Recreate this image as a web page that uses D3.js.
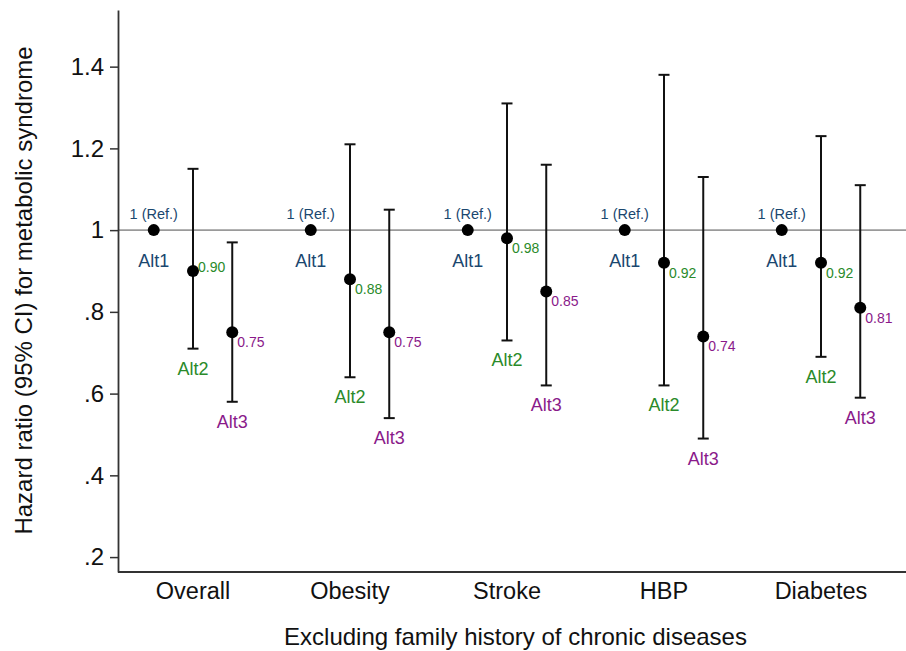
<!DOCTYPE html>
<html>
<head>
<meta charset="utf-8">
<script src="https://cdn.jsdelivr.net/npm/d3@7"></script>
<style>
  body { margin: 0; background: #fff; }
  svg { display: block; font-family: "Liberation Sans", Arial, sans-serif; }
</style>
</head>
<body>
<script>
// data
var categories = ["Overall", "Obesity", "Stroke", "HBP", "Diabetes"];
var seriesNames = ["Alt1", "Alt2", "Alt3"];
// hazard ratios per series (Alt1 is the reference)
var alt1HR = [1, 1, 1, 1, 1];
var alt2HR = [0.90, 0.88, 0.98, 0.92, 0.92];
var alt2Lo = [0.71, 0.64, 0.73, 0.62, 0.69];
var alt2Hi = [1.15, 1.21, 1.31, 1.38, 1.23];
var alt3HR = [0.75, 0.75, 0.85, 0.74, 0.81];
var alt3Lo = [0.58, 0.54, 0.62, 0.49, 0.59];
var alt3Hi = [0.97, 1.05, 1.16, 1.13, 1.11];
var yTicks = [0.2, 0.4, 0.6, 0.8, 1, 1.2, 1.4];

var svgWidth = 906, svgHeight = 651;
var colors = { Alt1: "#1a476f", Alt2: "#2a8a2a", Alt3: "#8a1a8a" };
var offsets = { Alt1: -0.25, Alt2: 0, Alt3: 0.25 };

var svg = d3.select("body").append("svg")
    .attr("width", svgWidth)
    .attr("height", svgHeight);

// scales
var xScale = d3.scaleLinear()
    .domain([0, categories.length - 1])
    .range([193, 821]);

var yScale = d3.scaleLinear()
    .domain([0.1635, 1.5386])
    .range([572, 10]);

var axisX = 118;

// reference line at 1
svg.append("line")
    .attr("x1", axisX).attr("x2", svgWidth)
    .attr("y1", yScale(1)).attr("y2", yScale(1))
    .attr("stroke", "#9a9a9a")
    .attr("stroke-width", 1.6);

// y axis
var yAxis = d3.axisLeft(yScale)
    .tickValues(yTicks)
    .tickSize(8)
    .tickSizeOuter(0)
    .tickPadding(6)
    .tickFormat(function(d) { return d3.format("~g")(d).replace(/^0\./, "."); });

var yg = svg.append("g")
    .attr("transform", "translate(" + axisX + ",0)")
    .call(yAxis);
yg.select(".domain").attr("stroke", "#333").attr("stroke-width", 1.8);
yg.selectAll(".tick line").attr("stroke", "#333").attr("stroke-width", 1.5);
yg.selectAll(".tick text").attr("font-size", 24).attr("fill", "#111")
    .attr("font-family", "Liberation Sans, Arial, sans-serif");

// x axis line
svg.append("line")
    .attr("x1", axisX).attr("x2", svgWidth)
    .attr("y1", yScale.range()[0]).attr("y2", yScale.range()[0])
    .attr("stroke", "#333")
    .attr("stroke-width", 1.8);

// category labels
svg.selectAll(".cat")
    .data(categories)
    .enter()
    .append("text")
    .attr("class", "cat")
    .attr("x", function(d, i) { return xScale(i); })
    .attr("y", 599)
    .attr("text-anchor", "middle")
    .attr("font-size", 23.5)
    .attr("fill", "#111")
    .text(function(d) { return d; });

// axis titles
svg.append("text")
    .attr("x", 515.5)
    .attr("y", 645)
    .attr("text-anchor", "middle")
    .attr("font-size", 24)
    .attr("fill", "#111")
    .text("Excluding family history of chronic diseases");

svg.append("text")
    .attr("transform", "translate(31.5," + 290.5 + ") rotate(-90)")
    .attr("text-anchor", "middle")
    .attr("font-size", 24)
    .attr("fill", "#111")
    .text("Hazard ratio (95% CI) for metabolic syndrome");

// build rows from arrays
var rows = [];
categories.forEach(function(c, i) {
  rows.push({ cat: i, name: "Alt1", hr: alt1HR[i], lo: null, hi: null });
  rows.push({ cat: i, name: "Alt2", hr: alt2HR[i], lo: alt2Lo[i], hi: alt2Hi[i] });
  rows.push({ cat: i, name: "Alt3", hr: alt3HR[i], lo: alt3Lo[i], hi: alt3Hi[i] });
});

function xPos(d) { return xScale(d.cat + offsets[d.name]); }

var ciRows = rows.filter(function(d) { return d.lo !== null; });
var capHalf = 5.5;

var g = svg.append("g");

// CI whiskers
g.selectAll(".ci")
    .data(ciRows)
    .enter()
    .append("line")
    .attr("x1", xPos).attr("x2", xPos)
    .attr("y1", function(d) { return yScale(d.lo); })
    .attr("y2", function(d) { return yScale(d.hi); })
    .attr("stroke", "#111")
    .attr("stroke-width", 2);

["lo", "hi"].forEach(function(k) {
  g.selectAll(".cap-" + k)
      .data(ciRows)
      .enter()
      .append("line")
      .attr("x1", function(d) { return xPos(d) - capHalf; })
      .attr("x2", function(d) { return xPos(d) + capHalf; })
      .attr("y1", function(d) { return yScale(d[k]); })
      .attr("y2", function(d) { return yScale(d[k]); })
      .attr("stroke", "#111")
      .attr("stroke-width", 2);
});

// points
g.selectAll(".pt")
    .data(rows)
    .enter()
    .append("circle")
    .attr("cx", xPos)
    .attr("cy", function(d) { return yScale(d.hr); })
    .attr("r", 6)
    .attr("fill", "#000");

// "1 (Ref.)" above Alt1 and name below
var refRows = rows.filter(function(d) { return d.name === "Alt1"; });
g.selectAll(".ref")
    .data(refRows)
    .enter()
    .append("text")
    .attr("x", xPos)
    .attr("y", function(d) { return yScale(d.hr) - 11; })
    .attr("text-anchor", "middle")
    .attr("font-size", 14.5)
    .attr("fill", colors.Alt1)
    .text("1 (Ref.)");

g.selectAll(".name1")
    .data(refRows)
    .enter()
    .append("text")
    .attr("x", xPos)
    .attr("y", function(d) { return yScale(d.hr) + 37; })
    .attr("text-anchor", "middle")
    .attr("font-size", 18)
    .attr("fill", colors.Alt1)
    .text(function(d) { return d.name; });

// value labels and names for Alt2/Alt3
g.selectAll(".val")
    .data(ciRows)
    .enter()
    .append("text")
    .attr("x", function(d) { return xPos(d) + 5; })
    .attr("y", function(d) {
      // first Alt2 label sits beside its point, the rest just below
      var dy = (d.cat === 0 && d.name === "Alt2") ? 1 : 15;
      return yScale(d.hr) + dy;
    })
    .attr("font-size", 14)
    .attr("fill", function(d) { return colors[d.name]; })
    .text(function(d) { return d3.format(".2f")(d.hr); });

g.selectAll(".name")
    .data(ciRows)
    .enter()
    .append("text")
    .attr("x", xPos)
    .attr("y", function(d) { return yScale(d.lo) + 26; })
    .attr("text-anchor", "middle")
    .attr("font-size", 18)
    .attr("fill", function(d) { return colors[d.name]; })
    .text(function(d) { return d.name; });
</script>
</body>
</html>
